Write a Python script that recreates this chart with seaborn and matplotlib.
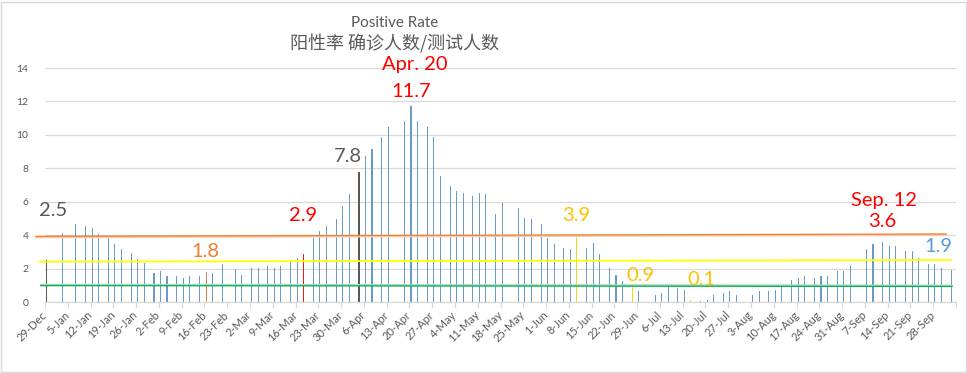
import numpy as np
import pandas as pd
import matplotlib
matplotlib.use("Agg")
import matplotlib.pyplot as plt
import seaborn as sns
from matplotlib.patches import Rectangle

# ---------------- data ----------------
# day index counted from 29-Dec (tick labels every 7 days)
days = [0, 5, 9, 12, 14, 16, 19, 21, 23, 26, 28, 30, 33, 35, 37, 40, 42, 44,
        47, 49, 51, 54, 58, 60, 63, 65, 68, 70, 72, 75, 77, 79, 82, 84, 86, 89,
        91, 93, 96, 98, 100, 103, 105, 110, 112, 114, 117, 119, 121, 124, 126,
        128, 131, 133, 135, 138, 140, 145, 147, 149, 152, 154, 156, 159, 161,
        163, 166, 168, 170, 173, 175, 177, 180, 182, 187, 189, 191, 194, 196,
        198, 201, 203, 205, 208, 210, 212, 217, 219, 222, 224, 226, 229, 231,
        233, 236, 238, 240, 243, 245, 247, 252, 254, 257, 259, 261, 264, 266,
        268, 271, 273, 275, 278]
rates = [2.5, 4.13, 4.69, 4.55, 4.43, 4.07, 3.93, 3.47, 3.17, 2.95, 2.57, 2.35,
         1.74, 1.86, 1.56, 1.56, 1.44, 1.56,
         1.56, 1.8, 1.74, 2.27, 1.97, 1.62, 2.03, 2.03, 2.15, 2.03, 2.15, 2.45,
         2.63, 2.9, 3.83, 4.25, 4.55, 4.97,
         5.74, 6.46, 7.8, 8.74, 9.16, 9.87, 10.47, 10.83, 11.7, 10.83, 10.47,
         9.87, 7.54, 6.94, 6.64,
         6.52, 6.34, 6.52, 6.46, 5.29, 5.92, 5.63, 5.03, 4.97, 4.69, 3.83, 3.47,
         3.23, 3.17,
         3.9, 3.23, 3.53, 2.87, 2.03, 1.62, 1.26, 0.9, 0.68, 0.42, 0.54, 1.02,
         0.84, 0.72,
         0.1, 0.06, 0.12, 0.42, 0.54, 0.66, 0.42, 0.42, 0.66, 0.66, 0.72, 0.96,
         1.32, 1.44,
         1.56, 1.44, 1.56, 1.56, 1.86, 1.86, 2.15, 3.17, 3.47, 3.6, 3.35, 3.35,
         3.05, 3.05,
         2.63, 2.27, 2.27, 2.03, 1.9]
highlight_days = {0: "grey", 96: "grey", 49: "orange", 79: "red",
                  163: "yellow", 180: "yellow", 198: "yellow"}

tick_labels = ["29-Dec", "5-Jan", "12-Jan", "19-Jan", "26-Jan", "2-Feb", "9-Feb",
               "16-Feb", "23-Feb", "2-Mar", "9-Mar", "16-Mar", "23-Mar", "30-Mar",
               "6-Apr", "13-Apr", "20-Apr", "27-Apr", "4-May", "11-May", "18-May",
               "25-May", "1-Jun", "8-Jun", "15-Jun", "22-Jun", "29-Jun", "6-Jul",
               "13-Jul", "20-Jul", "27-Jul", "3-Aug", "10-Aug", "17-Aug", "24-Aug",
               "31-Aug", "7-Sep", "14-Sep", "21-Sep", "28-Sep"]

# reference lines: (level at left end, level at right end)
ref_orange = [3.93, 4.07]
ref_yellow = [2.41, 2.51]
ref_green = [0.98, 0.93]

title_en = "Positive Rate"
title_cn = "阳性率 确诊人数/测试人数"

annot_texts = ["2.5", "2.9", "1.8", "7.8", "Apr. 20", "11.7", "3.9", "0.9",
               "0.1", "Sep. 12", "3.6", "1.9"]

# ---------------- style / layout ----------------
W, H = 967, 373
palette = {"blue": "#5B9BD5", "grey": "#595959", "orange": "#ED7D31",
           "red": "#FF0000", "yellow": "#FFFF00"}
annot_layout = [  # x (days), y (value units), color
    (2.6, 5.46, "#595959"), (79.3, 5.15, "#FF0000"), (49.2, 3.01, "#ED7D31"),
    (93.2, 8.70, "#595959"), (113.8, 14.18, "#FF0000"), (112.4, 12.59, "#FF0000"),
    (163.4, 5.16, "#FFC000"), (183.0, 1.56, "#FFC000"), (201.8, 1.35, "#FFC000"),
    (257.8, 6.10, "#FF0000"), (257.4, 4.81, "#FF0000"), (274.7, 3.31, "#5B9BD5"),
]

sns.set_theme(style="white")
plt.rcParams["font.family"] = ["Lato", "Noto Sans CJK SC", "DejaVu Sans"]

fig = plt.figure(figsize=(W / 100, H / 100), dpi=100)
ax = fig.add_axes([45 / W, 71 / H, 911 / W, 234 / H])

df = pd.DataFrame({
    "day": np.array(days, dtype=float) + 0.5,
    "rate": rates,
    "grp": [highlight_days.get(d, "blue") for d in days],
})
sns.barplot(data=df, x="day", y="rate", hue="grp", palette=palette,
            native_scale=True, dodge=False, errorbar=None, legend=False,
            linewidth=0, ax=ax)
bw = 0.33
for p in ax.patches:
    c = p.get_x() + p.get_width() / 2
    p.set_width(bw)
    p.set_x(c - bw / 2)
    p.set_snap(True)

ax.set_xlim(0, 280)
ax.set_ylim(0, 14)
ax.set_yticks(np.arange(0, 15, 2))
ax.set_xticks(list(np.arange(0, 274, 7)) + [280])
ax.set_xticklabels(tick_labels + [""])
ax.set_xlabel("")
ax.set_ylabel("")
ax.yaxis.grid(True, color="#D9D9D9", lw=0.9)
ax.xaxis.grid(False)
ax.set_axisbelow(True)
for s in ["left", "top", "right"]:
    ax.spines[s].set_visible(False)
ax.spines["bottom"].set_color("#D9D9D9")
ax.spines["bottom"].set_linewidth(0.9)
ax.tick_params(axis="x", bottom=True, length=4, width=0.9, color="#D9D9D9",
               labelcolor="#595959", labelsize=8, pad=4)
ax.tick_params(axis="y", left=False, labelcolor="#595959", labelsize=7.5, pad=6)
for lab in ax.get_xticklabels():
    lab.set_rotation(45)
    lab.set_ha("right")
    lab.set_va("center")
    lab.set_rotation_mode("anchor")

# reference lines
ax.plot([-3, 277.2], [r - 0.06 for r in ref_orange], color="#F8CBAD", lw=1.5,
        clip_on=False, solid_capstyle="butt", zorder=5)
ax.plot([-3, 277.2], ref_orange, color="#ED7D31", lw=0.9, clip_on=False,
        solid_capstyle="butt", zorder=5)
ax.plot([-2, 278.7], ref_yellow, color="#FFFF00", lw=1.3, clip_on=False,
        solid_capstyle="butt", zorder=5)
ax.plot([-1.5, 279], [r + 0.05 for r in ref_green], color="#A9D8B8", lw=1.5,
        clip_on=False, solid_capstyle="butt", zorder=5)
ax.plot([-1.5, 279], ref_green, color="#00B050", lw=0.9, clip_on=False,
        solid_capstyle="butt", zorder=5)

for t, (x, y, c) in zip(annot_texts, annot_layout):
    ax.text(x, y, t, color=c, fontsize=14.5, ha="center", va="center",
            clip_on=False, zorder=6)

fig.text(395 / W, 1 - 23 / H, title_en, ha="center", va="center",
         fontsize=11, color="#595959")
fig.text(395 / W, 1 - 44 / H, title_cn, ha="center", va="center",
         fontsize=13, color="#595959",
         family=["Noto Sans CJK SC", "DejaVu Sans"])

fig.patches.append(Rectangle((1 / W, 1 / H), (W - 2.5) / W, (H - 2.5) / H,
                             transform=fig.transFigure, fill=False,
                             ec="#D9D9D9", lw=1))

fig.savefig("out.png", dpi=100)
